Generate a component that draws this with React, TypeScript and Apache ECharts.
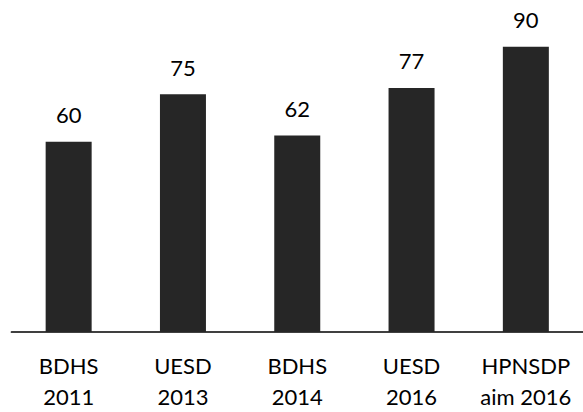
import React, { useEffect, useRef } from "react";
import * as echarts from "echarts";

const categories = ["BDHS\n2011", "UESD\n2013", "BDHS\n2014", "UESD\n2016", "HPNSDP\naim 2016"];
const values = [60, 75, 62, 77, 90];

export default function App() {
  const ref = useRef<HTMLDivElement>(null);
  useEffect(() => {
    if (!ref.current) return;
    const chart = echarts.init(ref.current, null, { renderer: "svg" });
    chart.setOption({
      animation: false,
      grid: { left: 11.5, top: 15, width: 575, height: 318.5 },
      xAxis: {
        type: "category",
        data: categories,
        axisLine: { lineStyle: { color: "#000", width: 1.7 } },
        axisTick: { show: false },
        axisLabel: {
          color: "#000",
          fontFamily: "Lato",
          fontSize: 22,
          lineHeight: 31,
          margin: 18,
          interval: 0,
        },
      },
      yAxis: {
        type: "value",
        min: 0,
        max: 100,
        show: false,
        splitLine: { show: false },
      },
      series: [
        {
          type: "bar",
          data: values,
          barWidth: 46,
          itemStyle: { color: "#262626" },
          label: {
            show: true,
            position: "top",
            distance: 16,
            color: "#000",
            fontFamily: "Lato",
            fontSize: 22,
          },
        },
      ],
    });
    return () => chart.dispose();
  }, []);
  return <div ref={ref} style={{ width: 583, height: 412, position: "absolute", left: 0, top: 0 }} />;
}
